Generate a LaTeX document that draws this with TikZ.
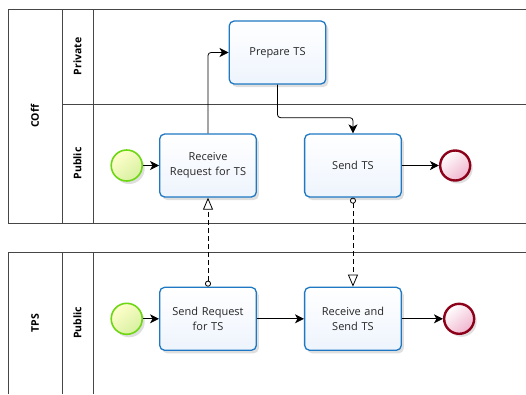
\documentclass[tikz,border=0pt]{standalone}
\usepackage{fontspec}
\setmainfont{Open Sans}
\usepackage{tikz}
\usetikzlibrary{arrows.meta,positioning,shadows}
\definecolor{taskline}{RGB}{30,120,195}
\definecolor{taskfill}{RGB}{238,244,253}
\definecolor{startline}{RGB}{110,215,20}
\definecolor{startfill}{RGB}{215,240,160}
\definecolor{endline}{RGB}{140,0,25}
\definecolor{endfill}{RGB}{240,180,205}
\definecolor{poolline}{RGB}{70,70,70}
\tikzstyle{task} = [rectangle, draw=taskline, line width=1.3pt, rounded corners=5pt, top color=white, bottom color=taskfill, minimum width=96pt, minimum height=63pt, text width=90pt, align=center, text=black!85, font=\fontsize{11}{15}\selectfont, drop shadow={shadow xshift=2.5pt, shadow yshift=-3pt, opacity=0.25}]
\tikzstyle{startev} = [circle, draw=startline, line width=1.6pt, top color=white!80!yellow, bottom color=startfill, shading angle=40, minimum size=31pt, inner sep=0pt, drop shadow={shadow xshift=2.5pt, shadow yshift=-3pt, opacity=0.25}]
\tikzstyle{endev} = [circle, draw=endline, line width=2.4pt, top color=white, bottom color=endfill, shading angle=40, minimum size=30pt, inner sep=0pt, drop shadow={shadow xshift=2.5pt, shadow yshift=-3pt, opacity=0.25}]
\tikzstyle{lanelabel} = [rotate=90, font=\bfseries\fontsize{10.5}{12}\selectfont]
\tikzstyle{pool} = [draw=poolline, line width=1pt]
\tikzstyle{seqflow} = [draw, line width=0.8pt, rounded corners=3pt, -{Stealth[length=9pt, width=9pt, inset=2.5pt]}]
\tikzstyle{msgflow} = [draw, line width=0.8pt, dash pattern=on 5pt off 3pt, {Circle[open, length=6pt, width=6pt]}-{Triangle[open, length=12pt, width=10pt]}]

\begin{document}
\begin{tikzpicture}[x=1pt, y=-1pt, node distance=16pt]
    \useasboundingbox (0,0) rectangle (526,394);
    \fill[white] (0,0) rectangle (526,394);

    % pool COff
    \draw [pool] (526,9) -- (8,9) -- (8,223) -- (526,223);
    \draw [pool] (62,9) -- (62,223);
    \draw [pool] (93,9) -- (93,223);
    \draw [pool] (62,104) -- (526,104);
    \node [lanelabel] (coff) at (35,116) {COff};
    \node [lanelabel] (private) at (77.5,56.5) {Private};
    \node [lanelabel] (publica) at (77.5,163.5) {Public};

    % pool TPS
    \draw [pool] (8,394) -- (8,252) -- (526,252);
    \draw [pool] (62,252) -- (62,394);
    \draw [pool] (93,252) -- (93,394);
    \node [lanelabel] (tps) at (35,323) {TPS};
    \node [lanelabel] (publicb) at (77.5,323) {Public};

    % COff tasks
    \node [task] (receive) at (208,165.5) {Receive\\Request for TS};
    \node [task, right=47pt of receive] (sendts) {Send TS};
    \node [task] (prepare) at (277.5,52.5) {Prepare TS};
    \node [startev, left=of receive] (startc) {};
    \node [endev, right=37pt of sendts] (endc) {};

    % TPS tasks
    \node [task, below=89pt of receive] (sendreq) {Send Request\\for TS};
    \node [task, below=89pt of sendts] (recvsend) {Receive and\\Send TS};
    \node [startev, left=of sendreq] (startt) {};
    \node [endev, right=41pt of recvsend] (endt) {};

    % sequence flows
    \path [seqflow] (startc) -- (receive);
    \path [seqflow] (receive.north) |- (prepare.west);
    \path [seqflow] (prepare.south) -- ++(0,33) -| (sendts.north);
    \path [seqflow] (sendts) -- (endc);
    \path [seqflow] (startt) -- (sendreq);
    \path [seqflow] (sendreq) -- (recvsend);
    \path [seqflow] (recvsend) -- (endt);

    % message flows
    \path [msgflow] (sendreq.north) -- (receive.south);
    \path [msgflow] (sendts.south) -- (recvsend.north);
\end{tikzpicture}
\end{document}
